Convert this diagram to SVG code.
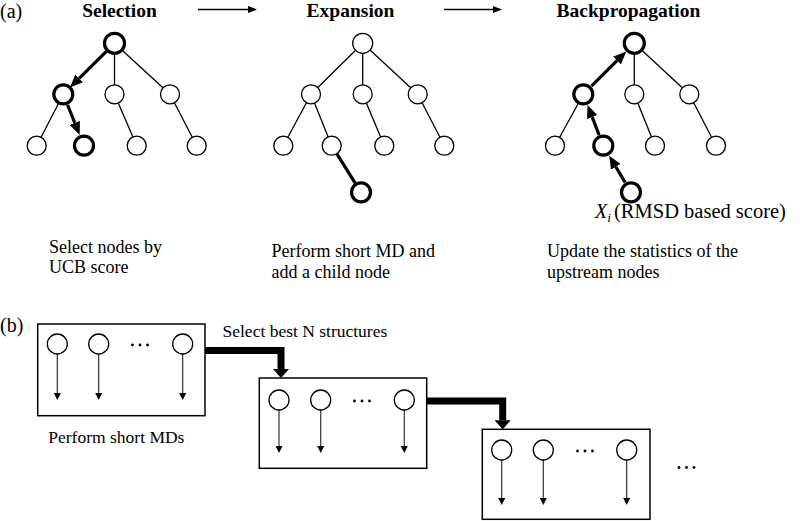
<svg xmlns="http://www.w3.org/2000/svg" width="800" height="521" viewBox="0 0 800 521">
<style>
text{font-family:"Liberation Serif","Times New Roman",serif;fill:#000}
.ttl{font-size:19.5px;font-weight:bold;text-anchor:middle}
.lbl{font-size:18px}
.pan{font-size:20px}
.thin{stroke:#000;stroke-width:1.3;fill:none}
.thick{stroke:#000;stroke-width:3.2;fill:none}
.nd{fill:#fff;stroke:#000;stroke-width:1.3}
.hl{stroke-width:3.2}
.box{fill:none;stroke:#000;stroke-width:1.5}
.md{stroke:#333;stroke-width:1.2;fill:none}
.bar{stroke:#000;stroke-width:7;fill:none;stroke-linejoin:miter}
.dot{fill:#000}
</style>
<defs>
<marker id="ta" markerUnits="userSpaceOnUse" viewBox="0 0 13 11" refX="0" refY="5.5" markerWidth="13" markerHeight="11" orient="auto"><path d="M0,0 L13,5.5 L0,11 z"/></marker>
<marker id="sa" markerUnits="userSpaceOnUse" viewBox="0 0 9 7" refX="0" refY="3.5" markerWidth="9" markerHeight="7" orient="auto"><path d="M0,0 L9,3.5 L0,7 z"/></marker>
<marker id="ba" markerUnits="userSpaceOnUse" viewBox="0 0 7 7" refX="0" refY="3.5" markerWidth="7" markerHeight="7" orient="auto"><path d="M0,0 L7,3.5 L0,7 z"/></marker>
<marker id="ha" markerUnits="userSpaceOnUse" viewBox="0 0 9 16" refX="0" refY="8" markerWidth="9" markerHeight="16" orient="auto"><path d="M0,0 L9,8 L0,16 z"/></marker>
</defs>

<g id="labels">
<text class="pan" x="0" y="18">(a)</text>
<text class="ttl" x="119.5" y="17">Selection</text>
<text class="ttl" x="350.5" y="17">Expansion</text>
<text class="ttl" x="628.5" y="17">Backpropagation</text>
<text class="lbl" x="49" y="253">Select nodes by</text>
<text class="lbl" x="49" y="273">UCB score</text>
<text class="lbl" x="271.5" y="257">Perform short MD and</text>
<text class="lbl" x="271.5" y="278">add a child node</text>
<text class="lbl" x="547" y="257">Update the statistics of the</text>
<text class="lbl" x="547" y="278">upstream nodes</text>
<text class="lbl" x="595" y="218"><tspan font-style="italic" font-size="20">X</tspan><tspan font-style="italic" font-size="13.5" dy="4">i</tspan></text>
<text class="lbl" x="614" y="218" style="font-size:20.5px">(RMSD based score)</text>
<text class="pan" x="0" y="332">(b)</text>
<text class="lbl" x="222.5" y="337" style="font-size:17.5px">Select best N structures</text>
<text class="lbl" x="48.3" y="443" style="font-size:17.5px">Perform short MDs</text>
</g>

<g id="connectors">
<path class="thin" d="M198,9.5 H248" style="stroke-width:1.6" marker-end="url(#sa)"/>
<path class="thin" d="M444,9.5 H493" style="stroke-width:1.6" marker-end="url(#sa)"/>
<!-- selection tree -->
<path class="thick" d="M106.4,51.4 L79.2,78.4" marker-end="url(#ta)"/>
<line class="thin" x1="114.5" y1="43.3" x2="114.5" y2="94.3"/>
<line class="thin" x1="114.5" y1="43.3" x2="170" y2="94.3"/>
<line class="thin" x1="63.3" y1="94.3" x2="36.7" y2="145.7"/>
<path class="thick" d="M67.6,105 L74.8,122.9" marker-end="url(#ta)"/>
<line class="thin" x1="114.5" y1="94.3" x2="136.7" y2="145.7"/>
<line class="thin" x1="170" y1="94.3" x2="196.7" y2="145.7"/>
<!-- expansion tree -->
<line class="thin" x1="362.7" y1="43.3" x2="311" y2="94.3"/>
<line class="thin" x1="362.7" y1="43.3" x2="362.7" y2="94.3"/>
<line class="thin" x1="362.7" y1="43.3" x2="417.7" y2="94.3"/>
<line class="thin" x1="311" y1="94.3" x2="283.3" y2="145.7"/>
<line class="thin" x1="311" y1="94.3" x2="331.7" y2="145.7"/>
<line class="thin" x1="362.7" y1="94.3" x2="384.3" y2="145.7"/>
<line class="thin" x1="417.7" y1="94.3" x2="444.3" y2="145.7"/>
<line class="thick" x1="331.7" y1="145.7" x2="361" y2="192.3"/>
<!-- backprop tree -->
<path class="thick" d="M591.4,86.2 L617,60.6" marker-end="url(#ta)"/>
<line class="thin" x1="634.3" y1="43.3" x2="634.3" y2="94.3"/>
<line class="thin" x1="634.3" y1="43.3" x2="689.3" y2="94.3"/>
<line class="thin" x1="583.3" y1="94.3" x2="555" y2="145.7"/>
<path class="thick" d="M599.1,135 L592.2,117.1" marker-end="url(#ta)"/>
<line class="thin" x1="634.3" y1="94.3" x2="655" y2="145.7"/>
<line class="thin" x1="689.3" y1="94.3" x2="716" y2="145.7"/>
<path class="thick" d="M625.1,182.4 L615.8,166.8" marker-end="url(#ta)"/>
<!-- panel b -->
<path class="bar" d="M205,350.5 H281 V369" marker-end="url(#ha)"/>
<path class="bar" d="M426.7,401 H502.7 V420.3" marker-end="url(#ha)"/>
<path class="md" d="M57.3,354 V393" marker-end="url(#ba)"/>
<path class="md" d="M98.7,354 V393" marker-end="url(#ba)"/>
<path class="md" d="M182.7,354 V393" marker-end="url(#ba)"/>
<path class="md" d="M279,410 V446" marker-end="url(#ba)"/>
<path class="md" d="M320.7,410 V446" marker-end="url(#ba)"/>
<path class="md" d="M404.3,410 V446" marker-end="url(#ba)"/>
<path class="md" d="M501.7,460 V498" marker-end="url(#ba)"/>
<path class="md" d="M543.3,460 V498" marker-end="url(#ba)"/>
<path class="md" d="M626.7,460 V498" marker-end="url(#ba)"/>
</g>

<g id="sel-tree">
<circle class="nd hl" cx="114.5" cy="43.3" r="10"/>
<circle class="nd hl" cx="63.3" cy="94.3" r="9.5"/>
<circle class="nd" cx="114.5" cy="94.3" r="9.5"/>
<circle class="nd" cx="170" cy="94.3" r="9.5"/>
<circle class="nd" cx="36.7" cy="145.7" r="9.5"/>
<circle class="nd hl" cx="84" cy="145.7" r="9.5"/>
<circle class="nd" cx="136.7" cy="145.7" r="9.5"/>
<circle class="nd" cx="196.7" cy="145.7" r="9.5"/>
</g>
<g id="exp-tree">
<circle class="nd" cx="362.7" cy="43.3" r="10"/>
<circle class="nd" cx="311" cy="94.3" r="9.5"/>
<circle class="nd" cx="362.7" cy="94.3" r="9.5"/>
<circle class="nd" cx="417.7" cy="94.3" r="9.5"/>
<circle class="nd" cx="283.3" cy="145.7" r="9.5"/>
<circle class="nd" cx="331.7" cy="145.7" r="9.5"/>
<circle class="nd" cx="384.3" cy="145.7" r="9.5"/>
<circle class="nd" cx="444.3" cy="145.7" r="9.5"/>
<circle class="nd hl" cx="361" cy="192.3" r="9.5"/>
</g>
<g id="bp-tree">
<circle class="nd hl" cx="634.3" cy="43.3" r="10"/>
<circle class="nd hl" cx="583.3" cy="94.3" r="9.5"/>
<circle class="nd" cx="634.3" cy="94.3" r="9.5"/>
<circle class="nd" cx="689.3" cy="94.3" r="9.5"/>
<circle class="nd" cx="555" cy="145.7" r="9.5"/>
<circle class="nd hl" cx="603.3" cy="145.7" r="9.5"/>
<circle class="nd" cx="655" cy="145.7" r="9.5"/>
<circle class="nd" cx="716" cy="145.7" r="9.5"/>
<circle class="nd hl" cx="631" cy="192.3" r="9.5"/>
</g>

<g id="box1">
<rect class="box" x="37.7" y="324" width="167.3" height="91.7"/>
<circle class="nd" cx="57.3" cy="344" r="10"/>
<circle class="nd" cx="98.7" cy="344" r="10"/>
<circle class="nd" cx="182.7" cy="344" r="10"/>
<circle class="dot" cx="132.5" cy="345" r="1.4"/>
<circle class="dot" cx="140" cy="345" r="1.4"/>
<circle class="dot" cx="147.5" cy="345" r="1.4"/>
</g>
<g id="box2">
<rect class="box" x="259.3" y="378" width="167.4" height="90.3"/>
<circle class="nd" cx="279" cy="400" r="10"/>
<circle class="nd" cx="320.7" cy="400" r="10"/>
<circle class="nd" cx="404.3" cy="400" r="10"/>
<circle class="dot" cx="354.5" cy="401" r="1.4"/>
<circle class="dot" cx="362" cy="401" r="1.4"/>
<circle class="dot" cx="369.5" cy="401" r="1.4"/>
</g>
<g id="box3">
<rect class="box" x="482.3" y="429.3" width="167.7" height="90"/>
<circle class="nd" cx="501.7" cy="450" r="10"/>
<circle class="nd" cx="543.3" cy="450" r="10"/>
<circle class="nd" cx="626.7" cy="450" r="10"/>
<circle class="dot" cx="577.5" cy="451" r="1.4"/>
<circle class="dot" cx="585" cy="451" r="1.4"/>
<circle class="dot" cx="592.5" cy="451" r="1.4"/>
</g>
<g id="more">
<circle class="dot" cx="679" cy="467.5" r="1.4"/>
<circle class="dot" cx="686.5" cy="467.5" r="1.4"/>
<circle class="dot" cx="694" cy="467.5" r="1.4"/>
</g>
</svg>
